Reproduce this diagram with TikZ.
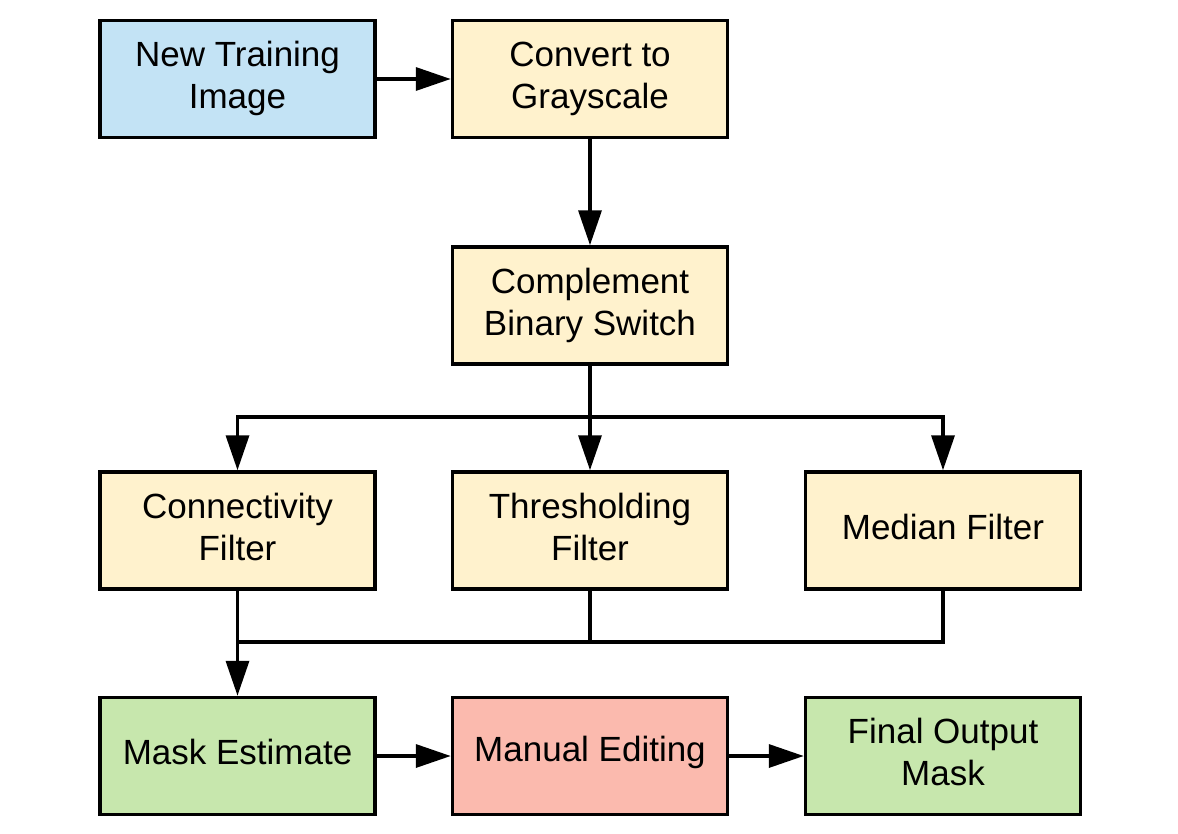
\documentclass[tikz,border=0pt]{standalone}
\usepackage{fontspec}
\setmainfont{Liberation Sans}
\usetikzlibrary{arrows.meta}
\definecolor{cblue}{HTML}{C3E3F5}
\definecolor{cyellow}{HTML}{FFF2CD}
\definecolor{cgreen}{HTML}{C7E7AD}
\definecolor{cred}{HTML}{FBBAAE}
\tikzset{
  frame/.style={draw=black, line width=3.5pt, minimum width=275pt, minimum height=117pt, inner sep=0pt},
  txt/.style={align=center, font=\fontsize{35}{42}\selectfont},
  box/.style={frame, label={[txt, yshift=0.5pt]center:#1}},
  boxup/.style={frame, label={[txt, yshift=4pt]center:#1}},
  conn/.style={line width=3.5pt},
  arr/.style={conn, -{Triangle[length=35pt,width=23pt]}},
}
\begin{document}
\begin{tikzpicture}[x=1pt,y=-1pt]
\useasboundingbox (0,0) rectangle (1178,833);
\node[box={New Training\\Image}, fill=cblue] (new) at (237.5,79) {};
\node[box={Convert to\\Grayscale}, fill=cyellow] (gray) at (590,79) {};
\node[box={Complement\\Binary Switch}, fill=cyellow] (comp) at (590,305.5) {};
\node[boxup={Connectivity\\Filter}, fill=cyellow] (conn) at (237.5,530.5) {};
\node[boxup={Thresholding\\Filter}, fill=cyellow] (thr) at (590,530.5) {};
\node[boxup={Median Filter}, fill=cyellow] (med) at (943,530.5) {};
\node[boxup={Mask Estimate}, fill=cgreen] (mask) at (237.5,756) {};
\node[boxup={Manual Editing}, fill=cred] (man) at (590,756) {};
\node[boxup={Final Output\\Mask}, fill=cgreen] (fin) at (943,756) {};
\coordinate (s1) at (590,417);
\coordinate (j1) at (237.5,642);
\draw[arr] (new) -- (gray);
\draw[arr] (gray) -- (comp);
\draw[conn] (comp.south) -- (s1);
\draw[arr] (s1) -- (thr.north);
\draw[arr] (s1) -| (conn.north);
\draw[arr] (s1) -| (med.north);
\draw[arr] (conn.south) -- (mask.north);
\draw[conn] (thr.south) |- (j1);
\draw[conn] (med.south) |- (j1);
\draw[arr] (mask) -- (man);
\draw[arr] (man) -- (fin);
\end{tikzpicture}
\end{document}
